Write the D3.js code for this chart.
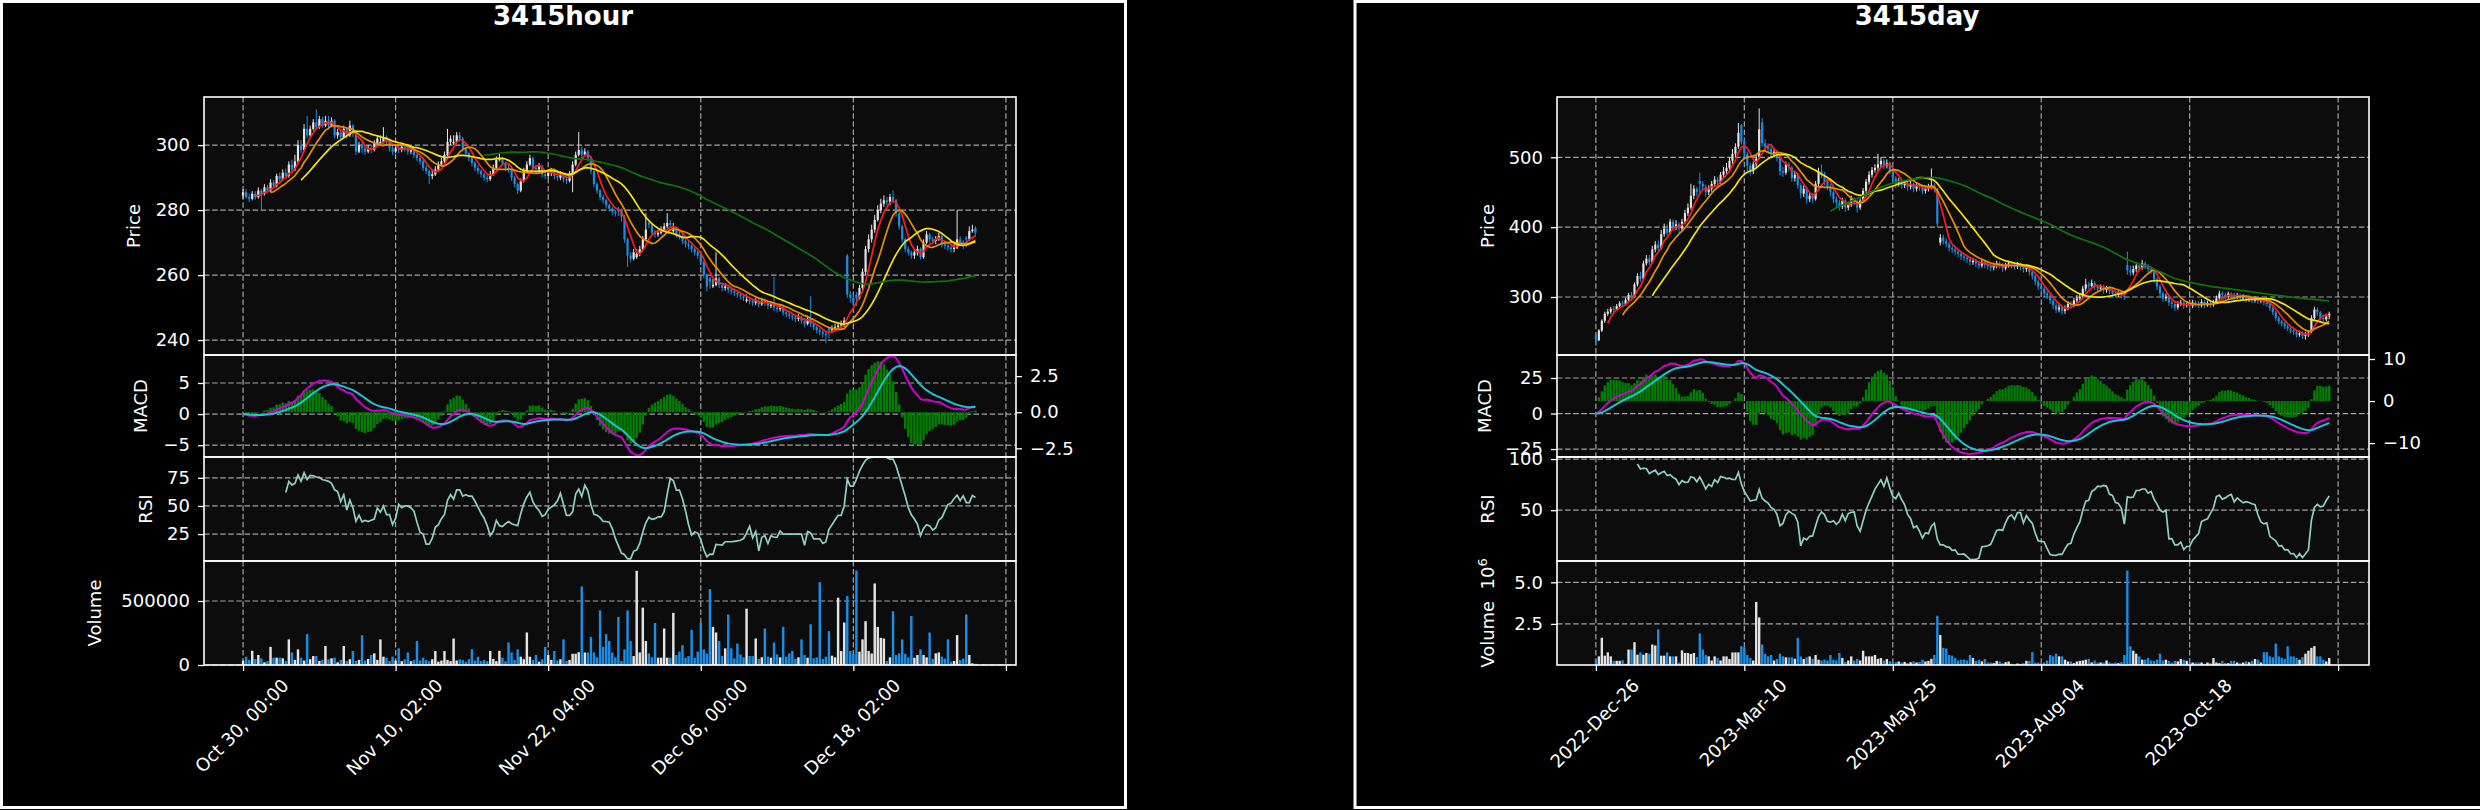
<!DOCTYPE html>
<html><head><meta charset="utf-8">
<script src="https://cdn.jsdelivr.net/npm/d3@7"></script>
<style>
body{margin:0;background:#000;}
svg{display:block;}
text{font-family:"DejaVu Sans",sans-serif;fill:#fff;}
.grid{stroke:#bdbdbd;stroke-width:1.2;stroke-dasharray:5.5 2.6;opacity:0.85;}
</style>
</head><body>
<svg id="c" width="2480" height="810"></svg>
<script>
// ---------------- HOURLY DATA ----------------
const hourOpen=[284.5,285.5,284,283.5,285,284,286,285,287,286,
288.5,287.5,290.5,289.5,291.5,290.5,294,292.5,295,300,
298.5,305,303,305,307,305.5,308,306,307.5,306,
307.5,303,304,302.5,305,303,306,304,298,300,
299,298,299,298.5,300.5,300.5,301,302.5,301,299,
298,299,298.5,299.5,299,298,298.5,297,296,295,
293,292,290.5,291,292.5,294,295,297,301,300.5,
301,303,302,299,297.5,296,294.5,293,292,291,
290,289.5,291,293,295.5,296,294.5,293,292.5,290,
288,286,289,292,294,296,293,292.5,293.5,291,
290.5,291.5,292,290.5,290,291,289.5,289,291,294,
297,298.5,297,298,296,292,288,286,284,283,
281.5,280.5,279.5,280.5,280,278,271,266,265,265.5,
266.5,268,271,276,275.5,273,272.5,273,274,275,
276,273.5,274,272.5,272,270.5,269.5,269,268,267,
266,264,260,259,256.5,257,259,257,256,256.5,
255.5,255,254.5,254,253.5,252,252.5,252,251.5,252,
251,252,251.5,250.5,251,250,249.5,250,248.5,248,
247.5,247,246.5,247,246,245,246.5,245,244,243,
242.5,242,243.5,243,243.5,244,244.5,245,266,254,
253,254,253,256,261,268,271,274,277,280,
282,283,282.5,284,283,279,275,271,268,267,
266,267,268,265.5,270,272.5,271,270.5,271,272,
269.5,269,268.5,268,268.5,271,270,271.5,271,273.5,274.5];
const hourHigh=[286.5,286.5,285,285.8,285.8,287,286.5,288,287.8,289.5,
289.2,291.2,291.5,292.5,292.8,295,295.5,297,301.5,301.5,
306.5,309,306,308,311,309,308.8,309,309,308.5,
308,305,304.8,306,305.5,307.5,306.5,304.5,301,301,
300,300,300,301.5,303,303,305.5,303,301.5,299.8,
300,300,300.5,300.5,299.5,299.5,299,297.8,296.8,295.5,
293.8,292.5,292,293.5,295,296,298,305,303,303,
304,304,302.5,299.5,298,296.5,295,293.8,292.5,291.5,
291,292,294,296.5,297.5,296.5,295,294,293,290.5,
288.5,289.8,293,295,297,296.5,294,294.5,294,291.8,
292.5,293,292.8,291.5,292,291.5,290.5,292,295,298,
304,299.5,299,298.5,296.5,292.5,288.5,286.5,284.8,283.5,
282,281,280,281,280.5,278.5,271.5,267,268,268,
269,272,279,277,276,274,274,275,276,279,
277,276,274.5,273.5,272.5,271,270.5,269.5,268.5,267.5,
266.5,264.5,260.5,259.5,258.8,267,259.5,257.8,257.5,257,
256.2,255.8,255.2,254.8,254.2,254,253.2,252.8,253,252.8,
253,252.8,252,252,259.5,250.8,251,250.5,249.2,248.8,
248.2,247.8,248,247.5,246.8,247.5,253.5,245.8,244.5,243.8,
243.2,242.5,244.2,244.5,245,245.5,246,247,266.5,255,
254,254.8,257,262,269,272.5,275.5,278.5,281.5,283.5,
284.5,284,285,286,283.5,279.5,275.5,271.5,268.8,267.5,
268,269,268.5,271,273.5,273,271.8,272,273,272.5,
270.2,269.8,269.2,269.5,280,272,270.8,272,275,275.5,275];
const hourLow=[283.5,283.5,282.5,283,283.2,283.5,280,284.5,285.2,285.5,
286.8,287,288.8,289,289.8,290,291.8,292,294.5,297.5,
298,302,302.5,304.5,304.8,305,305.2,305.5,305.2,305.5,
302,302,301.5,302,302,302.5,302.5,297,297.5,297.5,
297,297.5,297.5,298,300,300,300.5,300,298,297,
297.5,297.5,297.8,298,297,297.2,296,295,294,292,
291,288,289.5,290.5,292,293.5,294.5,296.5,300,300,
300.5,301,298,296.8,295,293.5,292,291,290,289,
288.5,289,290.5,292.5,295,293.8,292,291.5,289,287,
285,285.5,288.5,291.5,293.5,292,291.5,291.8,290,289.5,
289.8,290.5,289.5,289,289.2,288.5,288,288.5,285.5,293.5,
296.5,296,296.5,295,291,287,285,283,282,280.5,
279.5,278.5,278,278.2,276.5,270,262.5,264,264.5,265,
265.8,267.5,270.5,274.5,272,271.5,271.8,272.5,273.5,274.5,
274.5,273,271.5,271,269.5,268.5,268,267,266,265,
263,259,255,255.8,256,256.5,256,255,255.2,254.5,
254,253.5,253,252.5,252,251.5,251,250.5,250.8,250,
250.5,250.5,249.5,249.8,249,248.5,248.8,247.5,247,246.5,
246,245.5,245.8,245,244,244.5,244,243,242,241.5,
240.8,239,240.5,242.2,242.8,243,243.5,244,253,251.5,
250.5,250.5,252.5,255,260,267,270,273,276.5,279,
281,281.5,281.5,282,278,274,270,267,266,265,
265,266,264.8,265,269.5,270,269.5,269.5,270.5,268.5,
268,267.5,267,267,268,269,268,268.5,270.5,273,272];
const hourClose=[285.5,284,283.5,285,284,286,285,287,286,288.5,
287.5,290.5,289.5,291.5,290.5,294,292.5,295,300,298.5,
305,303,305,307,305.5,308,306,307.5,306,307.5,
303,304,302.5,305,303,306,304,298,300,299,
298,299,298.5,300.5,302,301,302.5,301,299,298,
299,298.5,299.5,299,298,298.5,297,296,295,293,
292,290.5,291,292.5,294,295,297,301,302,301,
303,302,299,297.5,296,294.5,293,292,291,290,
289.5,291,293,295.5,296,294.5,293,292.5,290,288,
286,289,292,294,296,293,292.5,293.5,291,290.5,
291.5,292,290.5,290,291,289.5,289,291,294,297,
298.5,297,298,296,292,288,286,284,283,281.5,
280.5,279.5,279,280,278,271,266,265,267,266.5,
268,271,274,275.5,273,272.5,273,274,275,276,
275.5,274,272.5,272,270.5,269.5,269,268,267,266,
264,260,256.5,258,257,259,257,256,256.5,255.5,
255,254.5,254,253.5,253,252.5,252,251.5,252,251,
252,251.5,250.5,251,250,249.5,250,248.5,248,247.5,
247,246.5,247,246,245,246.5,245,244,243,242.5,
242,241.5,243,243.5,244,244.5,245,246,254,253,
251.5,253,256,261,268,271,274,277,280,282,
283,282.5,284,283,279,275,271,268,267,266,
267,268,265.5,270,272.5,271,270.5,271,272,269.5,
269,268.5,268,268.5,271,270,269,271,273.5,274,273];
const hourVolume=[35000,65000,40000,111000,47000,78000,52000,21000,30000,142000,
57000,57000,57000,52000,30000,200000,98000,40000,122000,57000,
35000,241000,45000,70000,70000,31000,40000,148000,45000,52000,
57000,21000,40000,148000,31000,45000,109000,31000,40000,233000,
35000,47000,78000,91000,40000,200000,65000,57000,30000,65000,
35000,130000,30000,44000,98000,30000,40000,187000,35000,57000,
39000,30000,45000,109000,26000,35000,109000,40000,30000,207000,
35000,44000,39000,25000,45000,124000,35000,65000,31000,40000,
30000,109000,47000,30000,111000,57000,30000,176000,98000,40000,
122000,65000,45000,254000,65000,40000,78000,26000,45000,142000,
78000,40000,109000,35000,45000,200000,31000,40000,88000,88000,
100000,614000,98000,98000,220000,98000,60000,427000,142000,241000,
187000,98000,60000,376000,31000,122000,427000,187000,70000,736000,
98000,448000,187000,91000,60000,329000,57000,57000,285000,57000,
57000,407000,78000,104000,155000,57000,70000,275000,57000,104000,
329000,122000,90000,593000,298000,254000,187000,70000,130000,394000,
130000,52000,168000,83000,60000,440000,70000,70000,207000,47000,
60000,285000,65000,57000,176000,83000,60000,298000,65000,91000,
109000,47000,60000,200000,78000,57000,319000,52000,60000,648000,
47000,65000,264000,73000,60000,526000,109000,332000,539000,109000,
90000,738000,104000,200000,342000,109000,90000,637000,298000,212000,
207000,31000,60000,420000,78000,91000,200000,86000,60000,383000,
57000,78000,122000,78000,60000,254000,47000,91000,98000,65000,
50000,200000,26000,31000,233000,39000,50000,394000,78000,13000,10000];
const hourTickIdx=[0,50,100,150,200,250];
const hourTickLabels=["Oct 30, 00:00","Nov 10, 02:00","Nov 22, 04:00","Dec 06, 00:00","Dec 18, 02:00",""];

// ---------------- DAILY DATA ----------------
const dayOpen=[246,238,252,266,276,279,283,282,287,291,
290,296,303,300,318,330,326,348,355,350,
368,375,370,390,398,392,408,400,404,398,
408,420,428,445,455,466,462,458,450,455,
462,468,465,475,480,485,495,505,515,546,
522,505,488,480,490,500,550,520,515,512,
505,508,500,480,478,490,485,470,475,460,
448,455,440,445,440,462,480,475,465,458,
450,440,435,430,438,428,432,440,436,428,
438,452,465,475,482,485,490,495,488,492,
480,470,462,465,460,462,458,462,455,460,
458,452,455,458,460,455,378,385,380,376,
370,368,365,362,358,356,354,350,352,348,
345,350,346,344,342,345,348,346,341,345,
348,346,344,346,343,340,342,336,330,322,
315,312,305,302,295,288,282,285,280,284,
290,288,295,298,300,312,318,316,320,315,
312,314,310,312,308,305,303,305,302,346,
338,335,340,345,342,348,344,340,338,325,
315,305,298,300,292,290,285,290,292,288,
290,287,292,290,288,293,288,291,289,292,
298,305,303,300,305,303,300,302,298,300,
296,298,295,297,294,296,292,290,284,278,
270,265,262,258,255,252,250,246,248,244,
246,250,270,282,278,270,268,272];
const dayHigh=[247,254,268,279,283,286,287,290,294,295,
299,306,307,321,334,336,352,360,360,373,
380,381,396,405,404,412,411,410,407,412,
425,434,462,460,458,478,466,461,460,466,
473,472,479,486,492,500,512,520,549,548,
525,508,492,494,505,570,556,526,520,516,
513,511,503,486,494,493,488,480,478,463,
460,458,450,449,466,485,490,479,468,462,
453,444,439,442,441,436,445,443,439,441,
456,469,480,486,490,505,500,498,497,494,
483,473,470,468,466,465,466,464,464,463,
461,459,462,484,463,456,390,389,384,379,
374,371,368,366,362,360,358,356,355,352,
354,353,350,348,349,352,351,349,349,352,
351,350,350,349,347,346,344,338,333,325,
319,315,309,305,298,292,290,288,288,294,
294,299,303,305,316,326,322,325,323,318,
318,317,316,315,311,309,309,308,306,365,
345,345,350,349,353,351,347,344,340,328,
318,308,305,303,296,293,294,296,295,294,
293,296,295,294,297,296,295,294,296,302,
309,308,306,308,307,306,306,305,304,303,
302,301,301,300,300,299,296,292,286,281,
273,268,265,261,258,255,253,252,251,250,
252,274,286,285,280,274,276,279];
const dayLow=[234,237,250,263,273,276,278,280,285,286,
288,294,297,299,315,322,324,345,346,348,
364,366,368,386,388,390,396,396,392,395,
405,416,425,440,444,446,452,444,446,451,
458,460,462,471,476,481,490,500,512,518,
498,480,474,476,486,497,515,508,506,500,
500,494,474,472,475,480,465,465,455,441,
443,434,436,435,438,459,470,460,453,444,
434,428,424,426,422,424,429,431,421,425,
435,449,461,471,478,481,486,483,484,476,
465,456,458,455,456,452,454,450,451,452,
447,448,451,454,450,400,374,375,371,365,
363,360,357,353,351,349,345,346,343,340,
342,341,339,337,338,341,341,336,338,342,
341,339,340,338,335,336,331,325,317,310,
307,300,297,290,283,277,278,275,276,281,
283,285,292,295,298,308,311,312,310,308,
308,305,306,304,300,299,300,298,296,332,
330,331,336,338,339,340,335,333,320,310,
300,293,294,287,284,280,282,287,283,285,
282,284,286,284,285,284,286,285,286,290,
296,299,296,297,299,296,297,294,295,292,
293,291,292,290,291,288,286,280,274,266,
261,258,254,251,248,246,242,243,240,239,
243,248,266,273,266,264,265,268];
const dayClose=[238,252,266,276,279,283,282,287,291,290,
296,303,300,318,330,326,348,355,350,368,
375,370,390,398,392,408,400,404,398,408,
420,428,445,455,450,462,458,450,455,462,
468,465,475,480,485,495,505,515,535,522,
505,488,480,490,498,540,520,515,512,505,
508,500,480,478,490,485,470,475,460,448,
455,440,445,440,462,480,475,465,458,450,
440,435,430,438,428,432,440,436,428,438,
452,465,475,482,485,490,495,488,492,480,
470,462,465,460,462,458,462,455,460,458,
452,455,458,460,455,405,385,380,376,370,
368,365,362,358,356,354,350,352,348,345,
350,346,344,342,345,348,346,341,345,348,
346,344,346,343,340,342,336,330,322,315,
312,305,302,295,288,282,285,280,284,290,
288,295,298,300,312,318,316,320,315,312,
314,310,312,308,305,303,305,302,300,338,
335,340,345,342,348,344,340,338,325,315,
305,298,300,292,290,285,290,292,288,290,
287,292,290,288,293,288,291,289,292,298,
305,303,300,305,303,300,302,298,300,296,
298,295,297,294,296,292,290,284,278,270,
265,262,258,255,252,250,246,248,244,246,
248,270,282,278,270,268,272,276];
// daily volume in millions of shares (axis offset 10^6)
const dayVolume=[0.39,0.55,1.67,0.59,0.79,0.55,0.28,0.28,0.28,0.32,
0.10,0.96,0.96,1.40,0.65,0.79,0.65,0.75,0.71,1.26,
1.20,2.17,0.59,0.59,0.79,0.55,0.55,0.55,0.18,0.91,
0.75,0.75,0.69,0.75,0.50,1.93,0.96,0.63,0.55,0.30,
0.55,0.45,0.30,0.55,0.55,0.39,0.79,0.79,0.79,1.16,
1.10,0.63,0.45,0.30,3.82,2.89,1.26,0.71,0.55,0.63,
0.30,0.40,0.71,0.55,0.49,0.49,0.49,0.40,1.67,0.55,
0.39,0.49,0.55,0.40,0.63,0.35,0.30,0.35,0.30,0.63,
0.35,0.30,0.75,0.45,0.22,0.30,0.55,0.30,0.39,0.30,
0.89,0.55,0.55,0.55,0.63,0.40,0.45,0.30,0.39,0.25,
0.22,0.20,0.24,0.18,0.22,0.15,0.20,0.25,0.18,0.22,
0.35,0.24,0.28,0.40,0.63,2.99,1.83,1.06,1.02,0.63,
0.59,0.45,0.30,0.35,0.35,0.30,0.63,0.45,0.28,0.35,
0.25,0.39,0.18,0.18,0.14,0.28,0.24,0.14,0.20,0.24,
0.10,0.04,0.12,0.10,0.14,0.28,0.28,0.80,0.18,0.18,
0.14,0.18,0.30,0.63,0.55,0.71,0.55,0.55,0.35,0.24,
0.24,0.14,0.24,0.28,0.30,0.35,0.39,0.18,0.30,0.18,
0.18,0.18,0.30,0.18,0.14,0.18,0.14,0.20,0.63,5.71,
1.16,0.89,0.71,0.55,0.35,0.35,0.45,0.30,0.28,0.35,
0.71,0.30,0.35,0.28,0.18,0.28,0.25,0.39,0.35,0.28,
0.18,0.18,0.18,0.18,0.18,0.10,0.18,0.15,0.45,0.18,
0.14,0.28,0.15,0.14,0.28,0.28,0.18,0.14,0.18,0.24,
0.20,0.28,0.39,0.35,0.18,0.80,0.80,0.55,0.49,1.32,
0.55,0.45,0.40,1.16,0.55,0.55,0.45,0.35,0.50,0.71,
0.89,1.06,1.16,0.55,0.55,0.35,0.24,0.45];
const dayTickIdx=[0,50,100,150,200,250];
const dayTickLabels=["2022-Dec-26","2023-Mar-10","2023-May-25","2023-Aug-04","2023-Oct-18",""];

const maPeriods=[5,10,20,80];

// ---------------- STYLE / LAYOUT ----------------
const PANELS={price:[97,355],macd:[355,457],rsi:[457,561],vol:[561,665]};
const UP='#e4e4e4', DOWN='#1a8de6';
const maColors=['#ff1c1c','#e88f00','#f3e40c','#0a760a'];
const macdColor='#d000d0', signalColor='#1cc4d0', histColor='#008000', rsiColor='#8fd0c2';
const FS=18;

function sma(arr,n){return arr.map((_,i)=>i<n-1?null:d3.mean(arr.slice(i-n+1,i+1)));}
function ema(arr,span){const a=2/(span+1);const out=[];arr.forEach((v,i)=>out.push(i===0?v:a*v+(1-a)*out[i-1]));return out;}
function rsi(arr,n){const out=arr.map(()=>null);for(let i=n;i<arr.length;i++){let g=0,l=0;for(let k=i-n+1;k<=i;k++){const d=arr[k]-arr[k-1];if(d>0)g+=d;else l-=d;}out[i]=l===0?100:100-100/(1+g/l);}return out;}
const fmtMinus=f=>v=>f(v).replace('-','\u2212');

const svg=d3.select('#c');
svg.append('rect').attr('width',2480).attr('height',810).attr('fill','#000');
// figure frames
svg.append('rect').attr('x',1.5).attr('y',1.5).attr('width',1124).attr('height',806)
  .attr('fill','none').attr('stroke','#fff').attr('stroke-width',3);
svg.append('rect').attr('x',1355).attr('y',1.5).attr('width',1140).attr('height',806)
  .attr('fill','none').attr('stroke','#fff').attr('stroke-width',3);

function drawChart(cfg){
  const g=svg.append('g');
  const P=PANELS;
  const x=d3.scaleLinear().domain(cfg.xDomain).range([cfg.left,cfg.right]);
  const n=cfg.close.length, idx=d3.range(n), step=x(1)-x(0);
  const yP=d3.scaleLinear().domain(cfg.priceDomain).range([P.price[1],P.price[0]]);
  const yM=d3.scaleLinear().domain(cfg.macdDomain).range([P.macd[1],P.macd[0]]);
  const yH=d3.scaleLinear().domain(cfg.histDomain).range([P.macd[1],P.macd[0]]);
  const yR=d3.scaleLinear().domain(cfg.rsiDomain).range([P.rsi[1],P.rsi[0]]);
  const yV=d3.scaleLinear().domain(cfg.volDomain).range([P.vol[1],P.vol[0]]);
  const W=cfg.right-cfg.left;

  // title
  g.append('text').attr('x',cfg.titleX).attr('y',25).attr('text-anchor','middle')
    .attr('font-weight','bold').attr('font-size',26).text(cfg.title);

  Object.entries(P).forEach(([k,[t,b]])=>{
    g.append('rect').attr('x',cfg.left).attr('y',t).attr('width',W).attr('height',b-t).attr('fill','#0c0c0c');
    g.append('clipPath').attr('id',cfg.id+k).append('rect').attr('x',cfg.left).attr('y',t).attr('width',W).attr('height',b-t);
  });
  // grids
  Object.values(P).forEach(([t,b])=>{
    g.selectAll(null).data(cfg.tickIdx).join('line').attr('class','grid')
      .attr('x1',d=>x(d)).attr('x2',d=>x(d)).attr('y1',t).attr('y2',b);
  });
  const hgrid=(sc,ticks)=>g.selectAll(null).data(ticks).join('line').attr('class','grid')
      .attr('x1',cfg.left).attr('x2',cfg.right).attr('y1',d=>sc(d)).attr('y2',d=>sc(d));
  hgrid(yP,cfg.priceTicks); hgrid(yM,cfg.macdTicks); hgrid(yR,cfg.rsiTicks); hgrid(yV,cfg.volTicks);

  // candles
  const cg=g.append('g').attr('clip-path',`url(#${cfg.id}price)`);
  const col=i=>cfg.close[i]>=cfg.open[i]?UP:DOWN;
  cg.selectAll('line').data(idx).join('line')
    .attr('x1',i=>x(i)).attr('x2',i=>x(i)).attr('y1',i=>yP(cfg.high[i])).attr('y2',i=>yP(cfg.low[i]))
    .attr('stroke',col).attr('stroke-width',1);
  const bw=step*0.72;
  cg.selectAll('rect').data(idx).join('rect')
    .attr('x',i=>x(i)-bw/2).attr('width',bw)
    .attr('y',i=>yP(Math.max(cfg.open[i],cfg.close[i])))
    .attr('height',i=>Math.max(1,yP(Math.min(cfg.open[i],cfg.close[i]))-yP(Math.max(cfg.open[i],cfg.close[i]))))
    .attr('fill',col);
  // moving averages
  maPeriods.forEach((p,k)=>{
    const m=sma(cfg.close,p);
    cg.append('path').datum(m).attr('fill','none').attr('stroke',maColors[k]).attr('stroke-width',1.7)
      .attr('d',d3.line().defined(d=>d!=null).x((d,i)=>x(i)).y(d=>yP(d)));
  });

  // MACD
  const e12=ema(cfg.close,12), e26=ema(cfg.close,26);
  const macd=e12.map((v,i)=>v-e26[i]);
  const signal=ema(macd,9);
  const hist=macd.map((v,i)=>v-signal[i]);
  const mg=g.append('g').attr('clip-path',`url(#${cfg.id}macd)`);
  const hw=step*0.8;
  mg.selectAll('rect').data(idx).join('rect')
    .attr('x',i=>x(i)-hw/2).attr('width',hw)
    .attr('y',i=>Math.min(yH(0),yH(hist[i]))).attr('height',i=>Math.abs(yH(hist[i])-yH(0)))
    .attr('fill',histColor);
  [[macd,macdColor],[signal,signalColor]].forEach(([s,c])=>{
    mg.append('path').datum(s).attr('fill','none').attr('stroke',c).attr('stroke-width',2)
      .attr('d',d3.line().x((d,i)=>x(i)).y(d=>yM(d)));
  });

  // RSI
  const r=rsi(cfg.close,14);
  g.append('g').attr('clip-path',`url(#${cfg.id}rsi)`).append('path').datum(r)
    .attr('fill','none').attr('stroke',rsiColor).attr('stroke-width',1.7)
    .attr('d',d3.line().defined(d=>d!=null).x((d,i)=>x(i)).y(d=>yR(d)));

  // Volume
  const vw=step*0.8;
  g.append('g').attr('clip-path',`url(#${cfg.id}vol)`).selectAll('rect').data(idx).join('rect')
    .attr('x',i=>x(i)-vw/2).attr('width',vw)
    .attr('y',i=>yV(cfg.volume[i])).attr('height',i=>Math.max(0,P.vol[1]-yV(cfg.volume[i])))
    .attr('fill',col);

  // spines
  Object.values(P).forEach(([t,b])=>{
    g.append('rect').attr('x',cfg.left).attr('y',t).attr('width',W).attr('height',b-t)
      .attr('fill','none').attr('stroke','#fff').attr('stroke-width',1.6);
  });

  // y axes
  const yAxis=(sc,ticks,fmt,side)=>{
    const ax=(side==='left'?d3.axisLeft:d3.axisRight)(sc).tickValues(ticks).tickFormat(fmt).tickSize(6).tickPadding(8);
    const a=g.append('g').attr('transform',`translate(${side==='left'?cfg.left:cfg.right},0)`).call(ax)
      .attr('font-size',FS).attr('font-family','DejaVu Sans');
    a.select('.domain').remove();
    a.selectAll('line').attr('stroke','#fff').attr('stroke-width',1.3);
    a.selectAll('text').attr('fill','#fff');
  };
  yAxis(yP,cfg.priceTicks,d3.format('d'),'left');
  yAxis(yM,cfg.macdTicks,fmtMinus(d3.format('d')),'left');
  yAxis(yH,cfg.histTicks,fmtMinus(d3.format(cfg.histFmt)),'right');
  yAxis(yR,cfg.rsiTicks,d3.format('d'),'left');
  yAxis(yV,cfg.volTicks,d3.format(cfg.volFmt),'left');

  // x axis
  const xa=g.append('g').attr('transform',`translate(0,${P.vol[1]})`)
    .call(d3.axisBottom(x).tickValues(cfg.tickIdx).tickFormat('').tickSize(6));
  xa.select('.domain').remove();
  xa.selectAll('line').attr('stroke','#fff').attr('stroke-width',1.3);
  cfg.tickIdx.forEach((ti,k)=>{
    const lab=cfg.tickLabels[k]; if(!lab) return;
    const t=g.append('text').attr('font-size',FS).attr('text-anchor','end').text(lab);
    const L=t.node().getComputedTextLength();
    const a=0.76*FS, d=0.24*FS;
    const ex=x(ti)+0.3535*(L+a-d);
    const ey=P.vol[1]+6+6+0.707*a;
    t.attr('transform',`translate(${ex},${ey}) rotate(-45)`);
  });

  // y labels
  const ylab=(txt,xp,yc,sup)=>{
    const t=g.append('text').attr('font-size',FS).attr('text-anchor','middle').style('white-space','pre')
      .attr('transform',`translate(${xp},${yc}) rotate(-90)`).attr('dy','0.35em').text(txt);
    if(sup){t.append('tspan').attr('font-size',13).attr('dy','-0.55em').text(sup);}
  };
  const mid=k=>(P[k][0]+P[k][1])/2;
  ylab('Price',cfg.labelX.price,mid('price'));
  ylab('MACD',cfg.labelX.macd,mid('macd'));
  ylab('RSI',cfg.labelX.rsi,mid('rsi'));
  ylab(cfg.volLabel,cfg.labelX.vol,mid('vol'),cfg.volSup);
}

drawChart({id:'h',title:'3415hour',titleX:563,left:204,right:1016,xDomain:[-12.8,253.3],
  open:hourOpen,high:hourHigh,low:hourLow,close:hourClose,volume:hourVolume,
  tickIdx:hourTickIdx,tickLabels:hourTickLabels,
  priceDomain:[235.4,314.8],priceTicks:[240,260,280,300],
  macdDomain:[-6.9,9.5],macdTicks:[-5,0,5],
  histDomain:[-3.1,3.96],histTicks:[-2.5,0,2.5],histFmt:'.1f',
  rsiDomain:[1.1,93.5],rsiTicks:[25,50,75],
  volDomain:[0,812500],volTicks:[0,500000],volFmt:'d',volLabel:'Volume',volSup:null,
  labelX:{price:134,macd:141,rsi:146,vol:95}});

drawChart({id:'d',title:'3415day',titleX:1917,left:1557,right:2369,xDomain:[-13.1,260.4],
  open:dayOpen,high:dayHigh,low:dayLow,close:dayClose,volume:dayVolume,
  tickIdx:dayTickIdx,tickLabels:dayTickLabels,
  priceDomain:[217,586.3],priceTicks:[300,400,500],
  macdDomain:[-30.6,41.2],macdTicks:[-25,0,25],
  histDomain:[-13.3,10.95],histTicks:[-10,0,10],histFmt:'d',
  rsiDomain:[0.3,102],rsiTicks:[50,100],
  volDomain:[0.03,6.28],volTicks:[2.5,5.0],volFmt:'.1f',volLabel:'Volume  10',volSup:'6',
  labelX:{price:1488,macd:1485,rsi:1488,vol:1488}});
</script>
</body></html>
